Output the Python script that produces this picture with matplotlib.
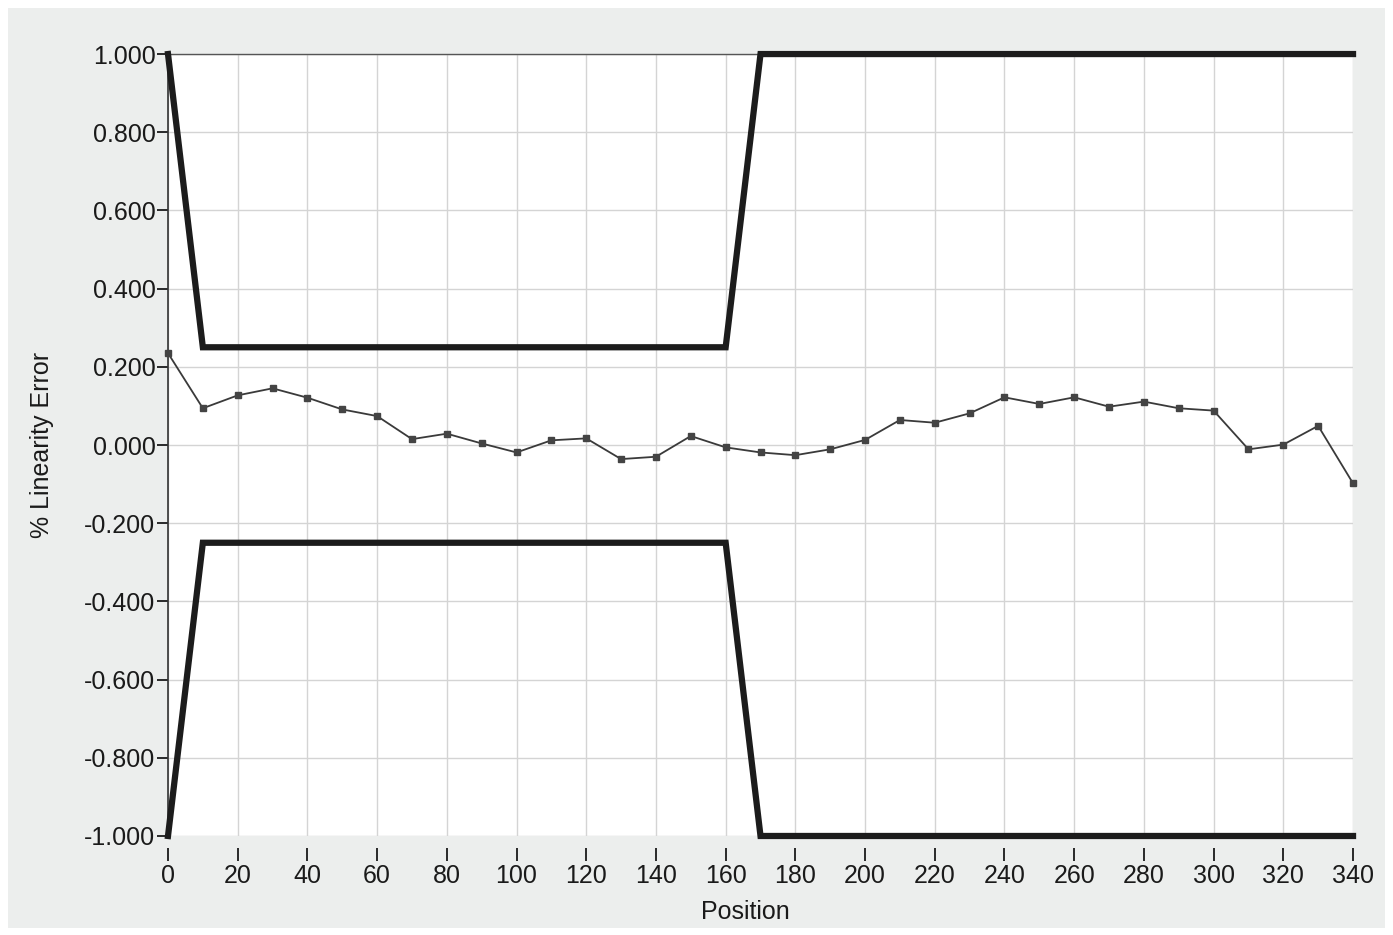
import numpy as np
import matplotlib
matplotlib.use("Agg")
import matplotlib.pyplot as plt
from matplotlib.patches import Rectangle
from matplotlib.ticker import FormatStrFormatter

plt.rcParams['font.family'] = ['Liberation Sans', 'DejaVu Sans']
plt.rcParams['axes.unicode_minus'] = False

# measured linearity error, every 10 units of position
position = list(range(0, 350, 10))
lin_error = [0.235, 0.094, 0.127, 0.145, 0.121, 0.091, 0.074, 0.015, 0.029, 0.004,
             -0.019, 0.012, 0.017, -0.036, -0.030, 0.023, -0.006, -0.019, -0.026, -0.011,
             0.013, 0.064, 0.057, 0.081, 0.122, 0.105, 0.122, 0.098, 0.111, 0.094,
             0.088, -0.011, 0.001, 0.049, -0.098]

# tolerance band
limit_x = [0, 10, 160, 170, 340]
upper_limit = [1.0, 0.25, 0.25, 1.0, 1.0]
lower_limit = [-1.0, -0.25, -0.25, -1.0, -1.0]

y_ticks = [-1.0, -0.8, -0.6, -0.4, -0.2, 0.0, 0.2, 0.4, 0.6, 0.8, 1.0]

fig = plt.figure(figsize=(13.93, 9.35), dpi=100, facecolor='white')
# grey panel behind the chart
fig.patches.append(Rectangle((0.006, 0.008), 0.988, 0.983, transform=fig.transFigure,
                             facecolor='#eceeed', edgecolor='none', zorder=-1))
ax = fig.add_axes([0.1206, 0.1059, 0.8507, 0.8363])
ax.set_facecolor('white')

ax.plot(limit_x, upper_limit, color='#1c1c1c', lw=4.5, solid_joinstyle='miter', clip_on=False, zorder=3)
ax.plot(limit_x, lower_limit, color='#1c1c1c', lw=4.5, solid_joinstyle='miter', clip_on=False, zorder=3)
ax.plot(position, lin_error, color='#3a3a3a', lw=1.3, marker='s', ms=4, mfc='#444444', mec='#444444',
        clip_on=False, zorder=4)

ax.set_xlim(0, 340)
ax.set_ylim(-1.0, 1.0)
ax.set_xticks(np.arange(0, 341, 20))
ax.set_yticks(y_ticks)
ax.yaxis.set_major_formatter(FormatStrFormatter('%.3f'))
ax.grid(True, color='#d4d4d4', lw=1.0)
ax.set_axisbelow(True)

for s in ['right', 'bottom']:
    ax.spines[s].set_visible(False)
ax.spines['top'].set_color('#555555')
ax.spines['top'].set_linewidth(1.0)
ax.spines['left'].set_color('#333333')
ax.spines['left'].set_linewidth(1.2)
ax.spines['bottom'].set_position(('outward', 9))

ax.tick_params(axis='y', direction='out', length=8, width=1.3, colors='#1a1a1a', labelsize=18, pad=1)
ax.tick_params(axis='x', direction='out', length=9, width=1.3, colors='#1a1a1a', labelsize=18, pad=2)

ax.set_xlabel('Position', fontsize=18, color='#1a1a1a')
ax.xaxis.set_label_coords(0.487, -0.082)
ax.set_ylabel('% Linearity Error', fontsize=18, color='#1a1a1a', labelpad=22)

fig.savefig('out.png', dpi=100, facecolor=fig.get_facecolor())
